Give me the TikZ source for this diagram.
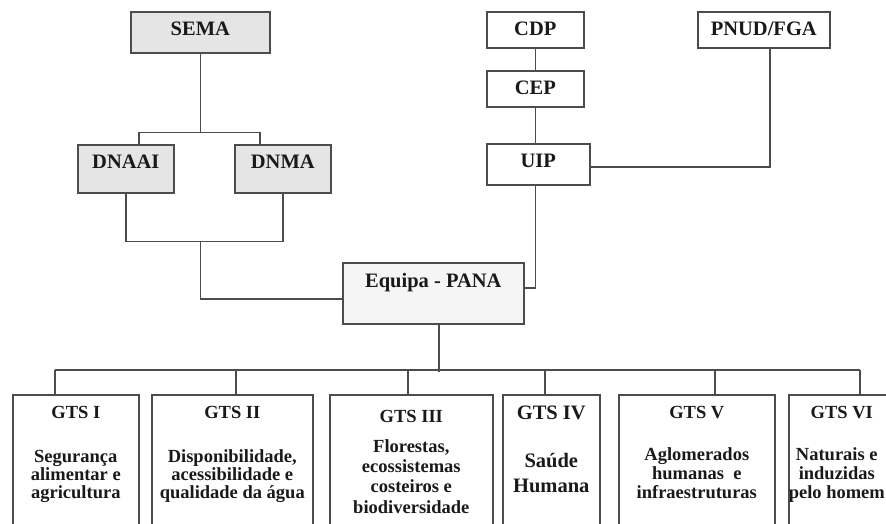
\documentclass[tikz,border=0pt]{standalone}
\usepackage{fontspec}
\setmainfont{Liberation Serif}
\usetikzlibrary{positioning}

\begin{document}
\begin{tikzpicture}[x=1pt, y=-1pt, line width=1.6pt, every node/.style={align=center}]
      \colorlet{orgbg}{gray!20} \colorlet{teambg}{gray!8}
      \colorlet{orgline}{black!70} \colorlet{orgink}{black!90}
      \tikzset{
        org/.style={draw=orgline, text=orgink, inner xsep=0pt, inner ysep=0pt, text height=24pt, anchor=north west, font=\bfseries\fontsize{20.5}{24}\selectfont},
        gts/.style={draw=orgline, minimum height=140pt, anchor=north west, inner sep=0pt},
        gtstitle/.style={anchor=base, text=orgink, inner sep=0pt, font=\bfseries\fontsize{18.5}{18.5}\selectfont},
        gtsbody/.style={anchor=base, text=orgink, inner sep=0pt, font=\bfseries\fontsize{18.5}{#1}\selectfont}
      }
      \useasboundingbox (0,0) rectangle (886,524);
      % top of the chart
      \node[org, fill=orgbg, minimum width=139pt, text depth=17pt] (sema) at (130,11) {SEMA};
      \node[org, fill=orgbg, minimum width=96pt, text depth=24pt] (dnaai) at (77,144) {DNAAI};
      \node[org, fill=orgbg, minimum width=96pt, text depth=24pt] (dnma) at (234,144) {DNMA};
      \node[org, minimum width=97pt, text depth=12pt] (cdp) at (486,11) {CDP};
      \node[org, minimum width=97pt, text depth=12pt] (cep) at (486,70) {CEP};
      \node[org, minimum width=103pt, text depth=17pt] (uip) at (486,143) {UIP};
      \node[org, minimum width=132pt, text depth=12pt] (pnud) at (697,11) {PNUD/FGA};
      \node[org, fill=teambg, minimum width=181pt, text height=25pt, text depth=36pt] (equipa) at (342,262) {Equipa - PANA};
      % working groups
      \node[gts, minimum width=126pt] (g1) at (12,394) {};
      \node[gts, minimum width=161pt] (g2) at (151,394) {};
      \node[gts, minimum width=163pt] (g3) at (329,394) {};
      \node[gts, minimum width=97pt] (g4) at (502,394) {};
      \node[gts, minimum width=156pt] (g5) at (618,394) {};
      \node[gts, minimum width=106pt] (g6) at (788,394) {};
      \node[gtstitle] (g1t) at ([yshift=-24pt]g1.north) {GTS I};
      \node[gtsbody=18pt] (g1b) at ([yshift=-104pt]g1.north) {Segurança\\alimentar e\\agricultura};
      \node[gtstitle] (g2t) at ([yshift=-24pt]g2.north) {GTS II};
      \node[gtsbody=18pt] (g2b) at ([yshift=-104pt]g2.north) {Disponibilidade,\\acessibilidade e\\qualidade da água};
      \node[gtstitle] (g3t) at ([yshift=-28pt]g3.north) {GTS III};
      \node[gtsbody=20.3pt] (g3b) at ([yshift=-119pt]g3.north) {Florestas,\\ecossistemas\\costeiros e\\biodiversidade};
      \node[gtstitle, font=\bfseries\fontsize{20.5}{20.5}\selectfont] (g4t) at ([yshift=-25pt]g4.north) {GTS IV};
      \node[gtsbody, font=\bfseries\fontsize{20.5}{25}\selectfont] (g4b) at ([yshift=-98pt]g4.north) {Saúde\\Humana};
      \node[gtstitle] (g5t) at ([yshift=-24pt]g5.north) {GTS V};
      \node[gtsbody=19pt] (g5b) at ([yshift=-104pt]g5.north) {Aglomerados\\humanas~ e\\infraestruturas};
      \node[gtstitle] (g6t) at ([yshift=-24pt]g6.north) {GTS VI};
      \node[gtsbody=19pt] (g6b) at ([xshift=-5pt, yshift=-104pt]g6.north) {Naturais e\\induzidas\\pelo homem};
      % connectors
      \begin{scope}[draw=orgline]
        \draw (sema.south) -- ++(0,79) coordinate (semaj);
        \draw ([xshift=13pt]dnaai.north) |- (semaj) -| ([xshift=-23pt]dnma.north);
        \draw (dnaai.south) -- ++(0,48) coordinate (dnl) -| (dnma.south);
        \draw (semaj |- dnl) |- ([yshift=-5.5pt]equipa.west);
        \draw (cdp) -- (cep);
        \draw (cep.south) -- (cep.south |- uip.north);
        \draw (cep.south |- uip.south) |- ([yshift=5.5pt]equipa.east);
        \draw ([xshift=6pt]pnud.south) |- ([yshift=-2.5pt]uip.east);
        \draw ([xshift=5.5pt]equipa.south) -- ++(0,47);
        \foreach \g/\dx in {g1/-21, g2/3.5, g3/-3.5, g4/-6.5, g5/18, g6/18}
          \draw ([xshift=\dx pt]\g.north) -- ++(0,-24) coordinate (\g-top);
        \draw (g1-top) -- (g6-top);
      \end{scope}
    \end{tikzpicture}
\end{document}
